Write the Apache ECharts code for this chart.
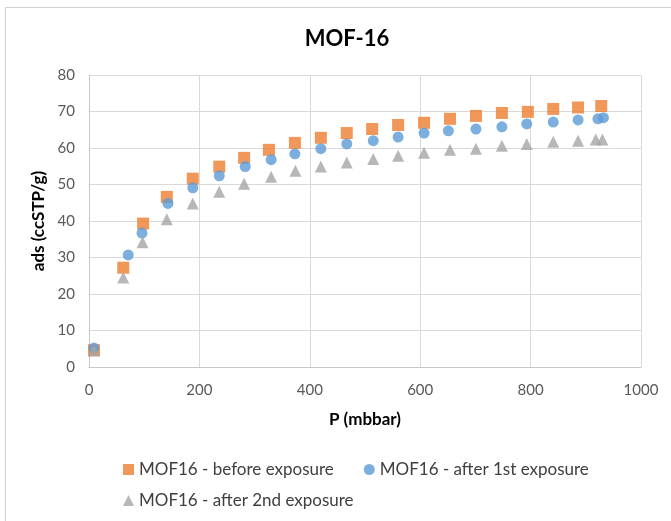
<!DOCTYPE html>
<html>
<head>
<meta charset="utf-8">
<script src="https://cdn.jsdelivr.net/npm/echarts@6/dist/echarts.min.js"></script>
<style>
html,body{margin:0;padding:0;background:#fff;}
#c{width:671px;height:521px;}
</style>
</head>
<body>
<div id="c"></div>
<script>
// Data
var titleText = "MOF-16";
var seriesNames = ["MOF16 - before exposure", "MOF16 - after 1st exposure", "MOF16 - after 2nd exposure"];

var beforeP   = [9, 62, 98, 141, 188, 236, 281, 326, 373, 420, 467, 513, 560, 607, 654, 701, 748, 795, 841, 886, 928];
var beforeAds = [4.6, 27.2, 39.3, 46.6, 51.6, 54.9, 57.3, 59.5, 61.4, 62.8, 64.1, 65.2, 66.3, 66.9, 68.0, 68.8, 69.6, 69.9, 70.7, 71.1, 71.5];

var after1P   = [9, 71, 96, 143, 188, 236, 283, 330, 373, 420, 467, 515, 560, 607, 651, 701, 748, 793, 841, 886, 922, 932];
var after1Ads = [5.2, 30.7, 36.7, 44.8, 49.1, 52.4, 54.9, 56.8, 58.4, 59.8, 61.1, 62.0, 63.0, 64.1, 64.7, 65.2, 65.8, 66.6, 67.1, 67.7, 68.0, 68.3];

var after2P   = [9, 62, 97, 141, 188, 236, 281, 330, 374, 420, 467, 515, 560, 607, 654, 701, 748, 793, 841, 886, 918, 930];
var after2Ads = [4.5, 24.5, 34.2, 40.5, 44.8, 48.0, 50.2, 52.1, 53.8, 54.9, 56.0, 57.0, 57.9, 58.7, 59.5, 59.8, 60.6, 61.1, 61.7, 62.0, 62.3, 62.3];

var xTicks = [0, 200, 400, 600, 800, 1000];
var yTicks = [0, 10, 20, 30, 40, 50, 60, 70, 80];

function pairs(xs, ys) { return xs.map(function (x, i) { return [x, ys[i]]; }); }

var font = "Lato, 'Open Sans', sans-serif";
var chart = echarts.init(document.getElementById('c'), null, {renderer: 'canvas'});
chart.setOption({
  animation: false,
  backgroundColor: '#fff',
  textStyle: {fontFamily: font},
  graphic: [{
    type: 'rect', silent: true, z: -1,
    shape: {x: 5.5, y: 7.5, width: 700, height: 600},
    style: {fill: 'none', stroke: '#d0d0d0', lineWidth: 1}
  }],
  title: {
    text: titleText, left: 342, top: 23, textAlign: 'center',
    textStyle: {fontFamily: font, fontSize: 22, fontWeight: 'bold', color: '#000'}
  },
  grid: {left: 89, right: 30, top: 75, bottom: 154, containLabel: false},
  xAxis: {
    type: 'value', min: xTicks[0], max: xTicks[xTicks.length - 1], interval: 200,
    name: 'P (mbbar)', nameLocation: 'middle', nameGap: 44,
    nameTextStyle: {fontFamily: font, fontSize: 17, fontWeight: 'bold', color: '#000'},
    axisLine: {show: true, lineStyle: {color: '#c8c8c8', width: 1}},
    axisTick: {show: false},
    axisLabel: {fontFamily: font, fontSize: 15, color: '#595959', margin: 16,
      formatter: function (v) { return String(v); }},
    splitLine: {show: true, lineStyle: {color: '#d9d9d9', width: 1}}
  },
  yAxis: {
    type: 'value', min: yTicks[0], max: yTicks[yTicks.length - 1], interval: 10,
    name: 'ads (ccSTP/g)', nameLocation: 'middle', nameGap: 38, nameRotate: 90,
    nameTextStyle: {fontFamily: font, fontSize: 17, fontWeight: 'bold', color: '#000'},
    axisLine: {show: true, lineStyle: {color: '#c8c8c8', width: 1}},
    axisTick: {show: false},
    axisLabel: {fontFamily: font, fontSize: 15, color: '#595959', margin: 14},
    splitLine: {show: true, lineStyle: {color: '#d9d9d9', width: 1}}
  },
  legend: [{
    data: [seriesNames[0], seriesNames[1]],
    left: 118, top: 456, itemGap: 30, itemWidth: 11, itemHeight: 11,
    textStyle: {fontFamily: font, fontSize: 17, color: '#404040'}
  }, {
    data: [seriesNames[2]],
    left: 118, top: 487, itemGap: 30, itemWidth: 11, itemHeight: 11,
    textStyle: {fontFamily: font, fontSize: 17, color: '#404040'}
  }],
  series: [{
    name: seriesNames[0], type: 'scatter', symbol: 'rect', symbolSize: 12,
    itemStyle: {color: '#ED7D31'}, data: pairs(beforeP, beforeAds)
  }, {
    name: seriesNames[1], type: 'scatter', symbol: 'circle', symbolSize: 11,
    itemStyle: {color: '#5B9BD5'}, data: pairs(after1P, after1Ads)
  }, {
    name: seriesNames[2], type: 'scatter', symbol: 'triangle', symbolSize: 12,
    itemStyle: {color: '#A5A5A5'}, data: pairs(after2P, after2Ads)
  }]
});
</script>
</body>
</html>
